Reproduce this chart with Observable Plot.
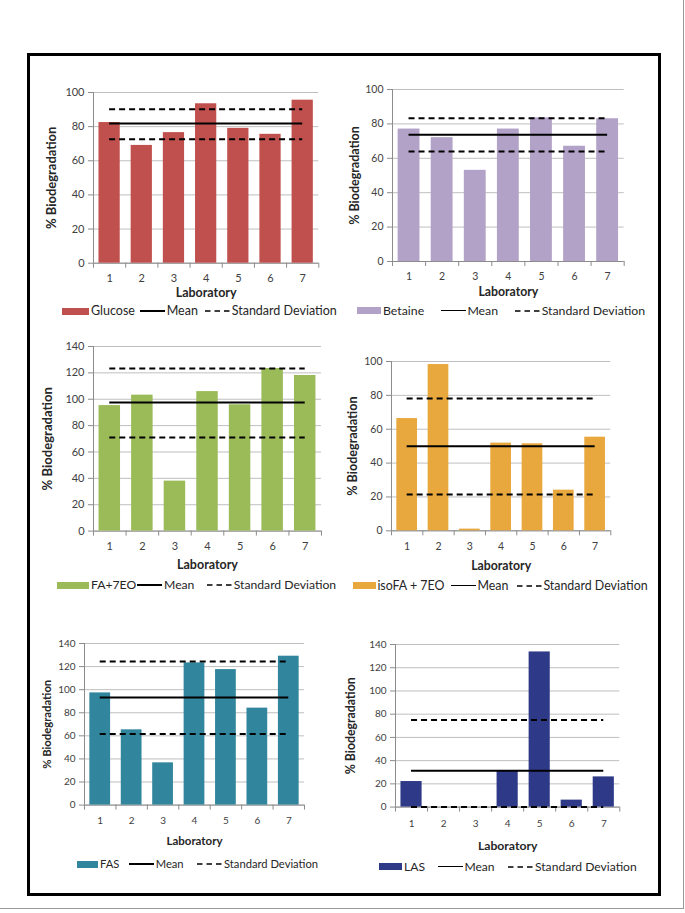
<!DOCTYPE html>
<html><head><meta charset="utf-8">
<script src="https://cdn.jsdelivr.net/npm/d3@7"></script>
<script src="https://cdn.jsdelivr.net/npm/@observablehq/plot@0.6"></script>
<style>
html,body{margin:0;padding:0;background:#fff;}
#page{position:relative;width:685px;height:913px;overflow:hidden;font-family:Lato,sans-serif;}
.edge{position:absolute;left:0;top:0;width:684px;height:909px;border-right:1px solid #999;border-bottom:1px solid #999;box-sizing:border-box;}
.frame{position:absolute;left:27px;top:53px;width:634px;height:843px;border:3px solid #000;box-sizing:border-box;}
.panel{position:absolute;}
.panel svg{overflow:visible;}
.lg{position:absolute;left:0;height:0;width:0;}
.lg > *{position:absolute;}
.lg span{top:0;transform:translateY(-52%);line-height:1;white-space:nowrap;color:#262626;}
</style></head><body><div id="page"><div class="edge"></div><div class="frame"></div></div>
<script>
// ---- data ----
const labs = [1, 2, 3, 4, 5, 6, 7];
const labBounds = [0.5, 1.5, 2.5, 3.5, 4.5, 5.5, 6.5, 7.5];
const substances = ["Glucose", "Betaine", "FA+7EO", "isoFA + 7EO", "FAS", "LAS"];
const glucose = [82.4, 69, 76.5, 93.4, 79, 75.5, 95.5];
const betaine = [77, 72, 53, 77, 83.5, 67, 83];
const fa7eo = [95.2, 103.1, 37.9, 105.8, 95.8, 123.3, 118];
const isofa7eo = [66.3, 98.2, 1, 51.8, 51.4, 24, 55.3];
const fas = [97.2, 65.2, 36.6, 123.2, 117.4, 84, 129];
const las = [22, 0, 0, 31.2, 133.6, 6, 26];
const series = [glucose, betaine, fa7eo, isofa7eo, fas, las];
const means = [81.8, 73.7, 97.5, 50, 93.2, 31.2];
const sdUpper = [90.2, 83.3, 123.3, 78.1, 124.3, 74.9];
const sdLower = [72.6, 64, 71, 21.4, 61.7, 0];
const ticks100 = [0, 20, 40, 60, 80, 100];
const ticks140 = [0, 20, 40, 60, 80, 100, 120, 140];
const yTicks = [ticks100, ticks100, ticks140, ticks100, ticks140, ticks140];
const yTitle = "% Biodegradation";
const xTitle = "Laboratory";
const meanLabel = "Mean";
const sdLabel = "Standard Deviation";
const colors = ["#c0504d", "#b3a2c7", "#9bbb59", "#e9a83d", "#31859c", "#2e3a87"];

// ---- layout ----
const layout = [
  {L: 92.7, R: 318, T: 92, B: 262.7, yT: 42, xL: 15.3, xT: 29.5, tf: 11, hf: 12.5, yf: 13,
   lg: {y: 311, sx: 62.3, sw: 27, lx: 140, dx: 205, f: 12.5}},
  {L: 392.3, R: 624, T: 89, B: 261, yT: 38, xL: 15, xT: 31, tf: 10.5, hf: 12.3, yf: 12.5,
   lg: {y: 310.5, sx: 357.3, sw: 24, lx: 440.7, dx: 515, f: 12.3}},
  {L: 92.7, R: 320.7, T: 345.7, B: 530.3, yT: 45.4, xL: 15.4, xT: 34.4, tf: 11, hf: 12.5, yf: 13.1,
   lg: {y: 585, sx: 57.3, sw: 32, lx: 137.3, dx: 207, f: 12.2}},
  {L: 390.7, R: 610, T: 360.7, B: 530, yT: 39, xL: 15.7, xT: 35, tf: 10.5, hf: 12.3, yf: 12.6,
   lg: {y: 585.7, sx: 352.7, sw: 23, lx: 450.7, dx: 516.7, f: 12.4}},
  {L: 84, R: 304, T: 642.7, B: 804.3, yT: 36.7, xL: 15.7, xT: 36.4, tf: 10, hf: 11.5, yf: 11.3,
   lg: {y: 864, sx: 76.7, sw: 21.6, lx: 129, dx: 197.3, f: 11.2}},
  {L: 395, R: 619.3, T: 643.7, B: 806.3, yT: 44.3, xL: 16.4, xT: 38.7, tf: 10, hf: 12.2, yf: 12.3,
   lg: {y: 866.7, sx: 379.3, sw: 23, lx: 437.7, dx: 508.3, f: 12.1}}
];
const barHalf = 0.33;
const page = document.getElementById("page");

function drawPanel(i) {
  const c = layout[i];
  const mL = 60, mR = 12, mT = 10, mB = 50;
  const fw = c.R - c.L, fh = c.B - c.T;
  const rows = labs.map((lab, j) => ({lab, value: series[i][j]}));
  const yMax = yTicks[i][yTicks[i].length - 1];
  const axisGray = "#8c8c8c";
  const chart = Plot.plot({
    width: fw + mL + mR, height: fh + mT + mB,
    marginLeft: mL, marginRight: mR, marginTop: mT, marginBottom: mB,
    style: {fontFamily: "Lato, sans-serif", background: "transparent", overflow: "visible"},
    x: {type: "linear", domain: [labBounds[0], labBounds[labBounds.length - 1]], axis: null, label: null},
    y: {domain: [0, yMax], axis: null, label: null},
    marks: [
      Plot.gridY(yTicks[i], {stroke: "#bfbfbf", strokeOpacity: 1, strokeWidth: 1}),
      Plot.ruleX([labBounds[0]], {stroke: axisGray}),
      Plot.ruleY([0], {stroke: axisGray}),
      Plot.axisY(yTicks[i], {tickSize: 5, tickPadding: 4, stroke: axisGray, fill: "#404040", fontSize: c.tf, label: null}),
      Plot.axisX(labBounds, {tickSize: 5, tickFormat: () => "", stroke: axisGray, label: null}),
      Plot.axisX(labs, {tickSize: 0, tickPadding: c.xL - 0.36 * c.tf, fill: "#404040", fontSize: c.tf, label: null}),
      Plot.rectY(rows, {x1: d => d.lab - barHalf, x2: d => d.lab + barHalf, y: "value", fill: colors[i]}),
      Plot.ruleY([means[i]], {x1: labs[0], x2: labs[labs.length - 1], stroke: "#000", strokeWidth: 2}),
      Plot.ruleY([sdLower[i], sdUpper[i]], {x1: labs[0], x2: labs[labs.length - 1], stroke: "#000", strokeWidth: 2, strokeDasharray: "6,4"}),
      Plot.text([yTitle], {frameAnchor: "left", dx: -c.yT, rotate: -90, textAnchor: "middle", lineAnchor: "middle", fontWeight: "bold", fontSize: c.yf, fill: "#262626"}),
      Plot.text([xTitle], {frameAnchor: "bottom", dy: c.xT, textAnchor: "middle", lineAnchor: "middle", fontWeight: "bold", fontSize: c.hf, fill: "#262626"})
    ]
  });
  const wrap = document.createElement("div");
  wrap.className = "panel";
  wrap.style.left = (c.L - mL) + "px";
  wrap.style.top = (c.T - mT) + "px";
  wrap.appendChild(chart);
  page.appendChild(wrap);

  // legend
  const g = c.lg;
  const lg = document.createElement("div");
  lg.className = "lg";
  lg.style.top = g.y + "px";
  lg.style.fontSize = g.f + "px";
  const add = (html) => { const t = document.createElement("template"); t.innerHTML = html.trim(); const el = t.content.firstChild; lg.appendChild(el); return el; };
  add(`<div style="left:${g.sx}px;top:-3.5px;width:${g.sw}px;height:7px;background:${colors[i]}"></div>`);
  add(`<span style="left:${g.sx + g.sw + 1.7}px"></span>`).textContent = substances[i];
  add(`<div style="left:${g.lx}px;top:-0.75px;width:25px;height:1.5px;background:#000"></div>`);
  add(`<span style="left:${g.lx + 26.7}px"></span>`).textContent = meanLabel;
  add(`<svg style="left:${g.dx}px;top:-2px;overflow:visible" width="25" height="4"><line x1="0" x2="25" y1="2" y2="2" stroke="#000" stroke-width="1.5" stroke-dasharray="5.5,4"/></svg>`);
  add(`<span style="left:${g.dx + 26.7}px"></span>`).textContent = sdLabel;
  page.appendChild(lg);
}
layout.forEach((_, i) => drawPanel(i));
</script></body></html>
